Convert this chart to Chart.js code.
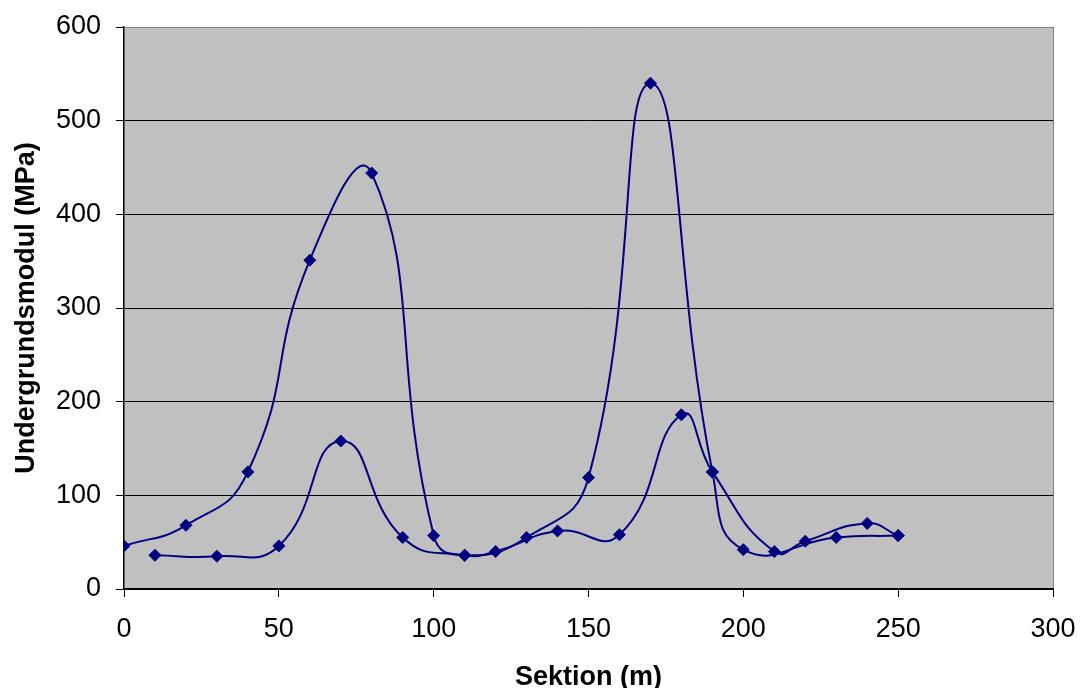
<!DOCTYPE html>
<html>
<head>
<meta charset="utf-8">
<script src="https://cdn.jsdelivr.net/npm/chart.js@4"></script>
<style>
  html, body { margin: 0; padding: 0; background: #fff; }
  #wrap { width: 1080px; height: 688px; }
</style>
</head>
<body>
<div id="wrap"><canvas id="chart" width="1080" height="688"></canvas></div>
<script>
// series with the big peaks
const sektionA = [0, 20, 40, 60, 80, 100, 110, 130, 150, 170, 190, 200, 230, 250];
const modulA = [46, 68, 125, 351, 444, 57, 36, 55, 119, 540, 125, 42, 55, 57];
// series with the small peaks
const sektionB = [10, 30, 50, 70, 90, 110, 120, 140, 160, 180, 190, 210, 220, 240, 250];
const modulB = [36, 35, 46, 158, 55, 36, 40, 62, 58, 186, 125, 40, 51, 70, 57];

const xTicks = [0, 50, 100, 150, 200, 250, 300];
const yTicks = [0, 100, 200, 300, 400, 500, 600];

const navy = "#000080";
const fontFam = "'Liberation Sans', Arial, sans-serif";

function toPoints(xs, ys){
    return xs.map((x, i) => ({ x: x, y: ys[i] }));
}

function makeSet(xs, ys){
    return {
        data: toPoints(xs, ys),
        showLine: true,
        borderColor: navy,
        borderWidth: 2,
        tension: 0.5,
        pointStyle: 'rectRot',
        pointRadius: 6,
        pointHoverRadius: 6,
        pointBackgroundColor: navy,
        pointBorderColor: navy,
        pointBorderWidth: 1
    };
}

// grey plot area
const plotBg = {
    id: 'plotBg',
    beforeDraw(chart){
        const a = chart.chartArea;
        const ctx = chart.ctx;
        ctx.save();
        ctx.fillStyle = "#C0C0C0";
        ctx.fillRect(a.left, a.top, a.right - a.left, a.bottom - a.top);
        ctx.restore();
    }
};

new Chart(document.getElementById("chart"), {
    type: 'scatter',
    data: {
        datasets: [makeSet(sektionA, modulA), makeSet(sektionB, modulB)]
    },
    options: {
        responsive: false,
        animation: false,
        layout: { padding: { top: 27, right: 27, left: 0, bottom: 0 } },
        plugins: {
            legend: { display: false },
            tooltip: { enabled: false }
        },
        scales: {
            x: {
                type: 'linear',
                min: 0,
                max: 300,
                afterBuildTicks: s => { s.ticks = xTicks.map(v => ({ value: v })); },
                afterFit: s => {
                    s.height = 99;
                    s.paddingLeft = 0;
                    s.paddingRight = 0;
                },
                border: { color: '#000', width: 1.5 },
                grid: {
                    drawOnChartArea: true,
                    color: c => c.tick && c.tick.value == 300 ? '#808080' : 'rgba(0,0,0,0)',
                    tickColor: '#000',
                    tickLength: 8
                },
                ticks: {
                    color: '#000',
                    padding: 16,
                    font: { family: fontFam, size: 27 }
                },
                title: {
                    display: true,
                    text: 'Sektion (m)',
                    color: '#000',
                    padding: 0,
                    font: { family: fontFam, size: 27, weight: 'bold', lineHeight: 0.74 }
                }
            },
            y: {
                min: 0,
                max: 600,
                afterBuildTicks: s => { s.ticks = yTicks.map(v => ({ value: v })); },
                afterFit: s => {
                    s.width = 124;
                    s.paddingTop = 0;
                    s.paddingBottom = 0;
                },
                border: { color: '#000', width: 1.5 },
                grid: {
                    color: c => c.tick && c.tick.value == 600 ? '#808080' : '#000',
                    tickColor: '#000',
                    tickLength: 8
                },
                ticks: {
                    color: '#000',
                    padding: 15,
                    font: { family: fontFam, size: 27 }
                },
                title: {
                    display: true,
                    text: 'Undergrundsmodul (MPa)',
                    color: '#000',
                    padding: { top: 10, bottom: 0 },
                    font: { family: fontFam, size: 27, weight: 'bold' }
                }
            }
        }
    },
    plugins: [plotBg]
});
</script>
</body>
</html>
